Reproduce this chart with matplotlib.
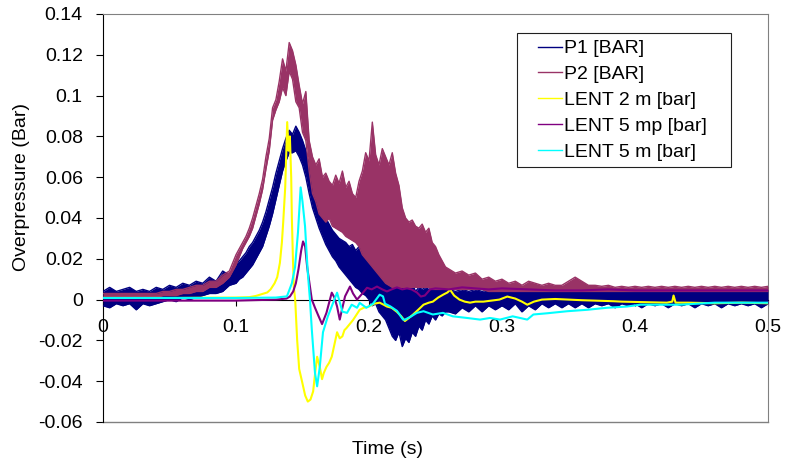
import matplotlib
matplotlib.use("Agg")
import matplotlib.pyplot as plt
import numpy as np
from matplotlib.legend_handler import HandlerLine2D

plt.rcParams['font.family'] = ['Liberation Sans', 'DejaVu Sans']

# Sampling grid for the two noisy pressure probes (P1, P2)
t_probe = np.concatenate([np.linspace(0, 0.095, 20),
                          np.linspace(0.1, 0.2575, 64),
                          np.linspace(0.26, 0.5, 49)])

# P1: lower / upper edge of the noisy trace
p1_lo = [-0.003, -0.004, -0.002, -0.003, -0.002, -0.005, -0.002, -0.003, -0.002, -0.001,
         0.000, -0.001, 0.001, 0.000, 0.001, 0.002, 0.003, 0.003, 0.004, 0.007,
         0.008, 0.010, 0.011, 0.013, 0.015, 0.017, 0.020, 0.023, 0.026, 0.031,
         0.036, 0.042, 0.049, 0.056, 0.063, 0.068, 0.072, 0.072, 0.073, 0.070,
         0.066, 0.060, 0.052, 0.045, 0.040, 0.035, 0.031, 0.027, 0.024, 0.021,
         0.019, 0.016, 0.014, 0.012, 0.010, 0.008, 0.006, 0.005, 0.003, 0.002,
         0.000, -0.003, -0.002, -0.006, -0.008, -0.010, -0.014, -0.018, -0.020, -0.016,
         -0.023, -0.019, -0.021, -0.016, -0.018, -0.013, -0.015, -0.010, -0.012, -0.008,
         -0.010, -0.007, -0.008, -0.006,
         -0.006, -0.007, -0.004, -0.006, -0.003, -0.006, -0.003, -0.005, -0.003, -0.005,
         -0.002, -0.006, -0.003, -0.005, -0.002, -0.004, -0.002, -0.004, -0.002, -0.004,
         -0.002, -0.004, -0.002, -0.003, -0.002, -0.004, -0.002, -0.003, -0.002, -0.004,
         -0.002, -0.003, -0.002, -0.004, -0.002, -0.003, -0.002, -0.004, -0.002, -0.003,
         -0.002, -0.004, -0.002, -0.003, -0.002, -0.003, -0.002, -0.004, -0.002]
p1_hi = [0.004, 0.006, 0.004, 0.005, 0.006, 0.004, 0.005, 0.004, 0.006, 0.005,
         0.007, 0.006, 0.008, 0.007, 0.009, 0.008, 0.011, 0.009, 0.014, 0.012,
         0.018, 0.019, 0.021, 0.023, 0.026, 0.028, 0.031, 0.034, 0.038, 0.043,
         0.049, 0.055, 0.062, 0.068, 0.074, 0.079, 0.083, 0.081, 0.085, 0.082,
         0.078, 0.073, 0.066, 0.058, 0.052, 0.047, 0.043, 0.040, 0.037, 0.034,
         0.032, 0.030, 0.029, 0.028, 0.026, 0.027, 0.024, 0.026, 0.025, 0.028,
         0.024, 0.030, 0.033, 0.026, 0.034, 0.020, 0.018, 0.012, 0.010, 0.014,
         0.008, 0.010, 0.006, 0.008, 0.004, 0.006, 0.005, 0.006, 0.005, 0.006,
         0.005, 0.005, 0.006, 0.005,
         0.005, 0.004, 0.005, 0.004, 0.005, 0.004, 0.005, 0.004, 0.004, 0.005,
         0.004, 0.004, 0.005, 0.004, 0.005, 0.004, 0.004, 0.005, 0.004, 0.005,
         0.004, 0.005, 0.004, 0.005, 0.004, 0.004, 0.005, 0.004, 0.005, 0.004,
         0.005, 0.004, 0.005, 0.004, 0.005, 0.004, 0.005, 0.004, 0.005, 0.004,
         0.005, 0.004, 0.005, 0.004, 0.005, 0.004, 0.005, 0.004, 0.005]

# P2: lower / upper edge of the noisy trace
p2_lo = [0.001, 0.001, 0.001, 0.001, 0.001, 0.001, 0.001, 0.001, 0.001, 0.002,
         0.002, 0.002, 0.003, 0.003, 0.004, 0.004, 0.006, 0.006, 0.008, 0.011,
         0.017, 0.021, 0.025, 0.028, 0.031, 0.035, 0.041, 0.047, 0.054, 0.064,
         0.073, 0.088, 0.093, 0.097, 0.104, 0.100, 0.112, 0.108, 0.097, 0.094,
         0.082, 0.078, 0.063, 0.052, 0.048, 0.042, 0.040, 0.038, 0.040, 0.036,
         0.035, 0.034, 0.033, 0.031, 0.030, 0.029, 0.028, 0.026, 0.022, 0.020,
         0.018, 0.016, 0.014, 0.012, 0.010, 0.008, 0.007, 0.006, 0.006, 0.006,
         0.006, 0.006, 0.006, 0.006, 0.006, 0.006, 0.006, 0.006, 0.006, 0.005,
         0.005, 0.005, 0.005, 0.005,
         0.005, 0.005, 0.005, 0.005, 0.005, 0.005, 0.004, 0.004, 0.004, 0.004,
         0.004, 0.004, 0.004, 0.004, 0.004, 0.004, 0.004, 0.004, 0.004, 0.004,
         0.004, 0.004, 0.004, 0.004, 0.004, 0.004, 0.004, 0.004, 0.004, 0.004,
         0.004, 0.004, 0.004, 0.004, 0.004, 0.004, 0.004, 0.004, 0.004, 0.004,
         0.004, 0.004, 0.004, 0.004, 0.004, 0.004, 0.004, 0.004, 0.004]
p2_hi = [0.003, 0.003, 0.003, 0.003, 0.003, 0.003, 0.003, 0.003, 0.003, 0.004,
         0.004, 0.005, 0.005, 0.006, 0.007, 0.007, 0.009, 0.009, 0.012, 0.014,
         0.022, 0.025, 0.028, 0.031, 0.035, 0.040, 0.046, 0.052, 0.059, 0.070,
         0.079, 0.094, 0.098, 0.107, 0.118, 0.112, 0.126, 0.122, 0.115, 0.105,
         0.096, 0.102, 0.078, 0.070, 0.066, 0.069, 0.060, 0.062, 0.058, 0.056,
         0.061, 0.057, 0.063, 0.055, 0.058, 0.052, 0.050, 0.058, 0.063, 0.072,
         0.068, 0.087, 0.071, 0.066, 0.074, 0.070, 0.066, 0.072, 0.062, 0.056,
         0.045, 0.040, 0.038, 0.039, 0.036, 0.035, 0.037, 0.033, 0.035, 0.028,
         0.026, 0.022, 0.019, 0.016,
         0.015, 0.013, 0.014, 0.012, 0.013, 0.010, 0.011, 0.009, 0.010, 0.008,
         0.009, 0.007, 0.009, 0.008, 0.007, 0.008, 0.007, 0.007, 0.009, 0.011,
         0.009, 0.007, 0.007, 0.0065, 0.007, 0.006, 0.0065, 0.006, 0.0065, 0.006,
         0.0065, 0.006, 0.0065, 0.006, 0.0065, 0.006, 0.0065, 0.006, 0.0065, 0.006,
         0.0065, 0.006, 0.0065, 0.006, 0.0065, 0.006, 0.0065, 0.006, 0.0065]

# LENT 2 m
t_lent2 = [0, 0.05, 0.1, 0.11, 0.115, 0.12, 0.1235, 0.126, 0.129, 0.131,
           0.133, 0.1345, 0.1355, 0.137, 0.1385, 0.1395, 0.1405, 0.1415, 0.142, 0.1428,
           0.1435, 0.1445, 0.146, 0.1475, 0.1496, 0.152, 0.154, 0.156, 0.158, 0.1595,
           0.161, 0.163, 0.1647, 0.166, 0.168, 0.17, 0.172, 0.174, 0.176, 0.178,
           0.18, 0.1815, 0.183, 0.1855, 0.188, 0.19, 0.193, 0.196, 0.2, 0.204,
           0.208, 0.211, 0.2135, 0.217, 0.221, 0.224, 0.227, 0.23, 0.233, 0.237,
           0.241, 0.245, 0.248, 0.252, 0.256, 0.259, 0.261, 0.264, 0.268, 0.272,
           0.276, 0.28, 0.286, 0.292, 0.298, 0.304, 0.31, 0.315, 0.319, 0.324,
           0.33, 0.34, 0.35, 0.36, 0.37, 0.384, 0.39, 0.41, 0.424, 0.428,
           0.429, 0.4305, 0.44, 0.46, 0.48, 0.5]
lent2 = [0.0008, 0.0008, 0.001, 0.0012, 0.0018, 0.0028, 0.0035, 0.005, 0.008, 0.011,
         0.018, 0.028, 0.038, 0.055, 0.087, 0.073, 0.080, 0.060, 0.040, 0.020,
         0.006, 0.0, -0.020, -0.034, -0.040, -0.047, -0.050, -0.049, -0.045, -0.036,
         -0.028, -0.033, -0.039, -0.036, -0.033, -0.031, -0.028, -0.022, -0.016, -0.019,
         -0.018, -0.015, -0.014, -0.012, -0.010, -0.008, -0.005, -0.004, -0.0034, -0.002,
         -0.0015, -0.0025, -0.0034, -0.004, -0.006, -0.008, -0.0105, -0.009, -0.0074, -0.005,
         -0.0025, -0.0015, -0.001, 0.001, 0.0025, 0.0035, 0.0048, 0.002, 0.0, -0.001,
         -0.0015, -0.001, -0.001, -0.0005, 0.0, 0.0015, 0.0005, -0.001, -0.0025, -0.001,
         0.0, 0.0003, 0.0, -0.0003, -0.0005, -0.0008, -0.001, -0.0013, -0.0015, -0.001,
         0.002, -0.0015, -0.0015, -0.0018, -0.0015, -0.0018]

# LENT 5 mp
t_lent5mp = [0, 0.1, 0.13, 0.138, 0.1405, 0.143, 0.145, 0.147, 0.149, 0.1504,
             0.152, 0.1535, 0.1556, 0.157, 0.1594, 0.162, 0.1647, 0.168, 0.172, 0.174,
             0.176, 0.178, 0.18, 0.182, 0.1857, 0.188, 0.191, 0.195, 0.1985, 0.202,
             0.206, 0.21, 0.2135, 0.217, 0.221, 0.225, 0.2286, 0.232, 0.236, 0.239,
             0.242, 0.246, 0.25, 0.26, 0.27, 0.28, 0.29, 0.3, 0.32, 0.34,
             0.36, 0.38, 0.4, 0.43, 0.46, 0.5]
lent5mp = [-0.0005, -0.0005, 0.0, 0.0005, 0.0015, 0.004, 0.008, 0.015, 0.024, 0.0285,
           0.026, 0.016, 0.0064, 0.0, -0.004, -0.008, -0.012, -0.0065, 0.0034, 0.001,
           -0.0034, -0.0098, -0.004, 0.0016, 0.0064, 0.003, 0.0, 0.003, 0.0058, 0.005,
           0.0064, 0.005, 0.004, 0.005, 0.006, 0.005, 0.0055, 0.005, 0.0035, 0.0015,
           0.002, 0.005, 0.0055, 0.005, 0.006, 0.0055, 0.005, 0.0055, 0.005, 0.0045,
           0.0045, 0.005, 0.0045, 0.0045, 0.0045, 0.0045]

# LENT 5 m
t_lent5 = [0, 0.1, 0.13, 0.1383, 0.142, 0.1444, 0.1466, 0.1486, 0.15, 0.1519,
           0.154, 0.1556, 0.157, 0.1594, 0.161, 0.163, 0.1654, 0.169, 0.173, 0.176,
           0.18, 0.1835, 0.187, 0.191, 0.193, 0.198, 0.203, 0.208, 0.2105, 0.212,
           0.216, 0.221, 0.2256, 0.227, 0.231, 0.236, 0.241, 0.248, 0.2556, 0.263,
           0.2737, 0.2835, 0.291, 0.2985, 0.308, 0.319, 0.3236, 0.334, 0.349, 0.364,
           0.379, 0.394, 0.404, 0.434, 0.46, 0.5]
lent5 = [0.0008, 0.0008, 0.001, 0.0016, 0.008, 0.016, 0.033, 0.055, 0.048, 0.036,
         0.013, 0.0, -0.0147, -0.036, -0.0425, -0.033, -0.016, -0.0083, -0.0016, 0.0034,
         -0.0059, -0.0065, -0.0025, -0.004, -0.0016, -0.004, -0.002, 0.0024, 0.0016, -0.002,
         -0.0033, -0.0055, -0.0098, -0.0098, -0.0085, -0.0065, -0.0057, -0.0073, -0.0065, -0.0082,
         -0.009, -0.0098, -0.009, -0.0098, -0.0082, -0.0098, -0.0073, -0.0067, -0.0057, -0.005,
         -0.004, -0.0034, -0.0025, -0.0025, -0.0015, -0.0015]

x_ticks = [0, 0.1, 0.2, 0.3, 0.4, 0.5]
x_tick_labels = ['0', '0.1', '0.2', '0.3', '0.4', '0.5']
y_ticks = [-0.06, -0.04, -0.02, 0, 0.02, 0.04, 0.06, 0.08, 0.1, 0.12, 0.14]
y_tick_labels = ['-0.06', '-0.04', '-0.02', '0', '0.02', '0.04', '0.06',
                 '0.08', '0.1', '0.12', '0.14']


class ShortLine(HandlerLine2D):
    # legend sample drawn only on the right part of the handle box
    def create_artists(self, legend, orig_handle, xdescent, ydescent,
                       width, height, fontsize, trans):
        artists = super().create_artists(legend, orig_handle, xdescent, ydescent,
                                         width, height, fontsize, trans)
        line = artists[0]
        xd = np.asarray(line.get_xdata(), dtype=float)
        x0, x1 = xd[0], xd[-1]
        line.set_xdata(np.linspace(x0 + 0.38 * (x1 - x0), x1, len(xd)))
        line.set_linewidth(1)
        return artists


fs = 14
fig = plt.figure(figsize=(7.85, 4.66), dpi=100)
ax = fig.add_axes([103 / 785, 44 / 466, 665 / 785, 408 / 466])

# noisy probes as filled bands between their edges
ax.fill_between(t_probe, p1_lo, p1_hi, color='#000080', lw=0, zorder=3)
ax.plot(t_probe, p1_hi, color='#000080', lw=1, zorder=3, label='P1 [BAR]')
ax.plot(t_probe, p1_lo, color='#000080', lw=1, zorder=3)
ax.fill_between(t_probe, p2_lo, p2_hi, color='#993366', lw=0, zorder=3)
ax.plot(t_probe, p2_hi, color='#993366', lw=1, zorder=3, label='P2 [BAR]')
ax.plot(t_probe, p2_lo, color='#993366', lw=1, zorder=3)

ax.plot(t_lent2, lent2, color='#FFFF00', lw=1.5, zorder=4, label='LENT 2 m [bar]')
ax.plot(t_lent5mp, lent5mp, color='#800080', lw=1.5, zorder=4, label='LENT 5 mp [bar]')
ax.plot(t_lent5, lent5, color='#00FFFF', lw=1.5, zorder=4, label='LENT 5 m [bar]')

ax.set_xlim(0, 0.5)
ax.set_ylim(-0.06, 0.14)
ax.set_xticks(x_ticks)
ax.set_xticklabels(x_tick_labels)
ax.set_yticks(y_ticks)
ax.set_yticklabels(y_tick_labels)

# Excel style: category axis crosses at zero, grey plot-area border
ax.spines['bottom'].set_position(('data', 0))
ax.spines['bottom'].set_color('black')
ax.spines['left'].set_color('black')
for side in ['top', 'right']:
    ax.spines[side].set_color('#808080')
ax.plot([0, 1], [0, 0], transform=ax.transAxes, color='#808080', lw=1, clip_on=False)

ax.tick_params(axis='x', direction='out', length=4, pad=10, labelsize=fs)
ax.tick_params(axis='y', direction='out', length=5, pad=9.5, labelsize=fs)

fig.text(22 / 785, 1 - 187 / 466, 'Overpressure (Bar)', rotation=90,
         ha='center', va='center', fontsize=fs)
fig.text(388 / 785, 1 - 450 / 466, 'Time (s)', ha='center', va='center', fontsize=fs)

leg = ax.legend(loc='upper left',
                bbox_to_anchor=(517 / 785, 1 - 168 / 466, 214 / 785, 135 / 466),
                bbox_transform=fig.transFigure, mode='expand', fancybox=False,
                edgecolor='#202020', framealpha=1, borderaxespad=0, fontsize=fs,
                handlelength=1.95, handletextpad=0.1, labelspacing=0.42,
                borderpad=0.35, handler_map={matplotlib.lines.Line2D: ShortLine()})
leg.get_frame().set_linewidth(0.8)

fig.savefig('out.png', dpi=100)
